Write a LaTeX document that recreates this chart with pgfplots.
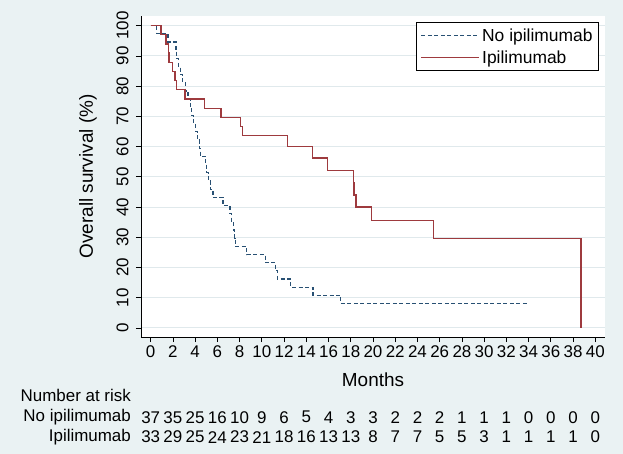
\documentclass[border=0pt]{standalone}
\usepackage{pgfplots}
\usepackage{pgfplotstable}
\pgfplotsset{compat=1.18}
\usepackage{fontspec}
\setmainfont{Liberation Sans}
\definecolor{bg}{RGB}{234,242,243}
\definecolor{gridc}{RGB}{224,233,236}
\definecolor{navyS}{RGB}{40,80,115}
\definecolor{maroonS}{RGB}{158,58,62}

\pgfplotstableread{
t s
0 100
0.54 97.3
1.55 94.6
2.27 91.9
2.35 89.2
2.5 86.5
2.65 83.8
2.85 81.1
3.1 78.4
3.35 75.7
3.55 73.0
3.7 70.3
3.85 67.6
4.0 64.9
4.2 62.2
4.37 59.5
4.45 56.8
4.95 54.1
5.05 51.4
5.2 48.6
5.35 45.9
5.6 43.2
6.5 40.5
7.13 37.8
7.3 35.1
7.45 32.4
7.55 29.7
7.65 27.0
8.65 24.3
10.3 21.6
11.25 18.9
11.4 16.2
12.6 13.5
14.6 10.8
17.1 8.1
33.9 8.1
}\noipi

\pgfplotstableread{
t s
0 100
0.93 97.0
1.38 93.9
1.6 90.9
1.65 87.9
1.98 84.8
2.19 81.8
2.34 78.8
3.09 75.8
4.82 72.7
6.33 69.7
8.06 66.7
8.25 63.6
12.32 60.0
14.57 56.2
15.92 52.0
18.26 48.0
18.3 44.0
18.47 40.0
19.88 35.5
25.43 29.6
38.71 0
}\ipi

\pgfplotstableread{
m n1 n2
0 37 33
2 35 29
4 25 25
6 16 24
8 10 23
10 9 21
12 6 18
14 5 16
16 4 13
18 3 13
20 3 8
22 2 7
24 2 7
26 2 5
28 1 5
30 1 3
32 1 1
34 0 1
36 0 1
38 0 1
40 0 0
}\risk

\begin{document}
\begin{tikzpicture}
\fill[bg] (-141bp,-117bp) rectangle (482bp,337bp);
\begin{axis}[
  at={(0,0)}, anchor=south west,
  scale only axis, width=464bp, height=321bp,
  xmin=-0.87, xmax=40.87, ymin=-2.98, ymax=103.2,
  axis x line=bottom, axis y line=left,
  axis line style={-, line width=0.8bp, black},
  axis background/.style={fill=white},
  xtick={0,2,...,40}, ytick={0,10,...,100},
  tick align=outside, major tick length=5bp,
  tick style={black, line width=0.8bp},
  ymajorgrids, grid style={gridc, line width=1bp},
  /pgf/number format/assume math mode=true,
  tick label style={font=\fontsize{17}{20}\selectfont},
  yticklabel style={rotate=90, anchor=south},
  yticklabel shift={4bp},
  every axis y label/.style={at={([xshift=-53bp]rel axis cs:0,0.5)}, rotate=90, anchor=center, font=\fontsize{19}{22}\selectfont},
  every axis x label/.style={at={([yshift=-43bp]rel axis cs:0.5,0)}, anchor=center, font=\fontsize{19}{22}\selectfont},
  xlabel={Months},
  ylabel={Overall survival (\%)},
  clip=false,
  legend style={at={(1,1)}, anchor=north east, xshift=-6bp, yshift=-6bp,
    draw=black, fill=white, line width=0.8bp,
    font=\fontsize{17.5}{20}\selectfont, inner xsep=4bp, inner ysep=4bp,
    row sep=4bp, cells={anchor=west},
    /tikz/every even column/.append style={column sep=4bp}},
  legend image code/.code={\draw[#1] (0bp,0bp) -- (58bp,0bp);},
  every node near coord/.append style={anchor=center, text=black, font=\fontsize{17}{20}\selectfont},
]
\addplot[const plot, mark=none, navyS, line width=1.2bp, dash pattern=on 4bp off 2.5bp] table[x=t, y=s] {\noipi};
\addlegendentry{No ipilimumab}
\addplot[const plot, mark=none, maroonS, line width=1.4bp] table[x=t, y=s] {\ipi};
\addlegendentry{Ipilimumab}
\addplot[forget plot, draw=none, mark=none, nodes near coords, point meta=explicit symbolic]
  table[x=m, y expr=-29.5, meta=n1] {\risk};
\addplot[forget plot, draw=none, mark=none, nodes near coords, point meta=explicit symbolic]
  table[x=m, y expr=-36.1, meta=n2] {\risk};
\node[anchor=east, inner sep=0pt, font=\fontsize{17}{20}\selectfont] at (axis cs:-1.77,-22.3) {Number at risk};
\node[anchor=east, inner sep=0pt, font=\fontsize{17}{20}\selectfont] at (axis cs:-1.77,-29.5) {No ipilimumab};
\node[anchor=east, inner sep=0pt, font=\fontsize{17}{20}\selectfont] at (axis cs:-1.77,-36.1) {Ipilimumab};
\end{axis}
\end{tikzpicture}
\end{document}
